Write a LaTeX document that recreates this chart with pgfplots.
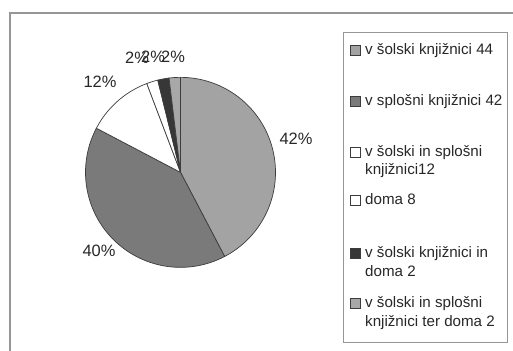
\documentclass[border=0pt]{standalone}
\usepackage{pgfplots}
\usepackage{pgfplotstable}
\pgfplotsset{compat=1.18}
\usepackage{fontspec}
\setmainfont{Liberation Sans}
\definecolor{cA}{RGB}{163,163,163}
\definecolor{cB}{RGB}{122,122,122}
\definecolor{cC}{RGB}{255,255,255}
\definecolor{cD}{RGB}{255,255,255}
\definecolor{cE}{RGB}{55,55,55}
\definecolor{cF}{RGB}{168,168,168}
\definecolor{edge}{RGB}{60,60,60}
\definecolor{txt}{RGB}{40,40,40}
\definecolor{frame}{RGB}{150,150,150}

\pgfplotstableread{
value
44
42
12
2
2
2
}\piedata

\newcommand\getv[2]{\pgfplotstablegetelem{#1}{value}\of\piedata\let#2\pgfplotsretval}
\getv{0}{\vA}\getv{1}{\vB}\getv{2}{\vC}\getv{3}{\vD}\getv{4}{\vE}\getv{5}{\vF}
\pgfmathsetmacro\tot{\vA+\vB+\vC+\vD+\vE+\vF}
\pgfmathsetmacro\aA{90}
\pgfmathsetmacro\aB{\aA-360*\vA/\tot}
\pgfmathsetmacro\aC{\aB-360*\vB/\tot}
\pgfmathsetmacro\aD{\aC-360*\vC/\tot}
\pgfmathsetmacro\aE{\aD-360*\vD/\tot}
\pgfmathsetmacro\aF{\aE-360*\vE/\tot}
\pgfmathsetmacro\aG{\aF-360*\vF/\tot}

\begin{document}
\begin{tikzpicture}[x=1bp,y=1bp]
\useasboundingbox (0,0) rectangle (513,350);
\fill[white] (0,0) rectangle (513,350);
\draw[frame, line width=1.5bp] (10,-5) -- (10,337) -- (520,337);

\begin{axis}[at={(90,87)}, anchor=south west, width=190bp, height=190bp,
  scale only axis, xmin=-1, xmax=1, ymin=-1, ymax=1, hide axis, clip=false]
\addplot[fill=cA, draw=edge, line width=0.7bp, domain=\aB:\aA, samples=80] ({cos(x)},{sin(x)}) -- (axis cs:0,0) -- cycle;
\addplot[fill=cB, draw=edge, line width=0.7bp, domain=\aC:\aB, samples=80] ({cos(x)},{sin(x)}) -- (axis cs:0,0) -- cycle;
\addplot[fill=cC, draw=edge, line width=0.7bp, domain=\aD:\aC, samples=30] ({cos(x)},{sin(x)}) -- (axis cs:0,0) -- cycle;
\addplot[fill=cD, draw=edge, line width=0.7bp, domain=\aE:\aD, samples=10] ({cos(x)},{sin(x)}) -- (axis cs:0,0) -- cycle;
\addplot[fill=cE, draw=edge, line width=0.7bp, domain=\aF:\aE, samples=10] ({cos(x)},{sin(x)}) -- (axis cs:0,0) -- cycle;
\addplot[fill=cF, draw=edge, line width=0.7bp, domain=\aG:\aF, samples=10] ({cos(x)},{sin(x)}) -- (axis cs:0,0) -- cycle;
\end{axis}

% percentage labels
\begin{scope}[every node/.style={text=txt, font=\fontsize{16.5}{18}\selectfont, inner sep=0pt}]
\node at (296,211) {42\%};
\node at (99,99) {40\%};
\node at (100,268) {12\%};
\node at (137,292) {2\%};
\node at (153,293) {2\%};
\node at (173,293) {2\%};
\end{scope}

% legend
\draw[frame, line width=0.8bp, fill=white] (343,318) rectangle (507,8);
\begin{scope}[every node/.style={text=txt, font=\fontsize{15.2}{18}\selectfont, inner sep=0pt, anchor=west, text height=11bp, text depth=3bp}]
\filldraw[fill=cA, draw=edge, line width=0.6bp] (350,295) rectangle (360,305);
\node at (365,300) {v šolski knjižnici 44};
\filldraw[fill=cB, draw=edge, line width=0.6bp] (350,244) rectangle (360,254);
\node at (365,249) {v splošni knjižnici 42};
\filldraw[fill=cC, draw=edge, line width=0.6bp] (350,193) rectangle (360,203);
\node at (365,198) {v šolski in splošni};
\node at (365,180) {knjižnici12};
\filldraw[fill=cD, draw=edge, line width=0.6bp] (350,145) rectangle (360,155);
\node at (365,150) {doma 8};
\filldraw[fill=cE, draw=edge, line width=0.6bp] (350,92) rectangle (360,102);
\node at (365,97) {v šolski knjižnici in};
\node at (365,78) {doma 2};
\filldraw[fill=cF, draw=edge, line width=0.6bp] (350,42) rectangle (360,52);
\node at (365,47) {v šolski in splošni};
\node at (365,28) {knjižnici ter doma 2};
\end{scope}
\end{tikzpicture}
\end{document}
